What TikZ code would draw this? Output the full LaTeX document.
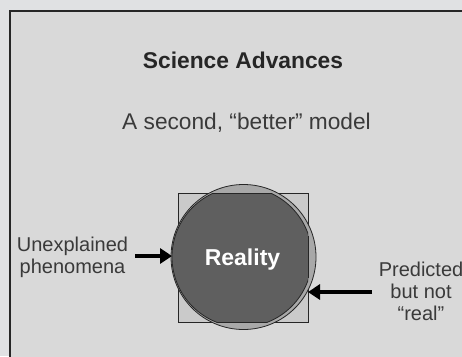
\documentclass[tikz,border=0pt]{standalone}
\usepackage{fontspec}
\setmainfont{Liberation Sans}
\usetikzlibrary{arrows.meta}
\definecolor{pagebg}{HTML}{E0E1E3}
\definecolor{panelbg}{HTML}{D9D9D9}
\definecolor{squarefill}{HTML}{CACACA}
\definecolor{modelfill}{HTML}{A8A8A8}
\definecolor{realfill}{HTML}{5F5F5F}
\definecolor{labelgray}{HTML}{3A3A3A}
\tikzset{
  heading/.style={font=\fontsize{22.8}{27}\selectfont\bfseries, text=black!85, inner sep=0pt},
  subheading/.style={font=\fontsize{22.7}{27}\selectfont, text=labelgray, inner sep=0pt},
  sidelabel/.style={font=\fontsize{20}{22}\selectfont, text=labelgray, align=center, inner sep=0pt},
  fatarrow/.style={line width=4.5pt, black, -{Triangle[length=12pt,width=15pt]}},
  thinline/.style={line width=0.8pt, black!85},
}
\begin{document}
\begin{tikzpicture}[x=1pt,y=-1pt]
  % page and framed panel (the panel runs off the right and bottom)
  \fill[pagebg] (0,0) rectangle (462,356);
  \useasboundingbox (0,0) rectangle (462,356);
  \filldraw[fill=panelbg, draw=black!85, line width=1.6pt] (10,11) rectangle (480,380);

  % headings
  \node[heading] (title) at (243,60) {Science Advances};
  \node[subheading] (subtitle) at (246.5,123) {A second, “better” model};

  % square model
  \node[draw=black!85, line width=0.8pt, fill=squarefill, minimum width=130pt,
        minimum height=129pt, inner sep=0pt] (sq) at (243,257.5) {};
  % circular model
  \node[circle, draw=black!85, line width=0.8pt, fill=modelfill,
        minimum size=145pt, inner sep=0pt] (model) at (243.5,257) {};
  % reality: the circle cut by the square's top, right and bottom sides
  \begin{scope}
    \clip (160,193) rectangle (308,322);
    \fill[realfill] (242,257) circle (70);
    \draw[thinline] (242,257) circle (70);
  \end{scope}
  \begin{scope}
    \clip (242,257) circle (70);
    \draw[thinline] (160,193) -- (308,193) -- (308,322) -- (160,322);
  \end{scope}
  \node[font=\fontsize{23}{27}\selectfont\bfseries, text=white, inner sep=0pt]
    (reality) at (242.5,260) {Reality};

  % side labels
  \node[sidelabel] (unexpl) at (72.5,257) {Unexplained\\phenomena};
  \node[sidelabel] (pred) at (421,291) {Predicted\\but not\\“real”};

  % arrows
  \coordinate (ltail) at (135,256);
  \coordinate (ltip) at (172,256);
  \coordinate (rtail) at (372,292);
  \coordinate (rtip) at (308,292);
  \draw[fatarrow] (ltail) -- (ltip);
  \draw[fatarrow] (rtail) -- (rtip);
\end{tikzpicture}
\end{document}
